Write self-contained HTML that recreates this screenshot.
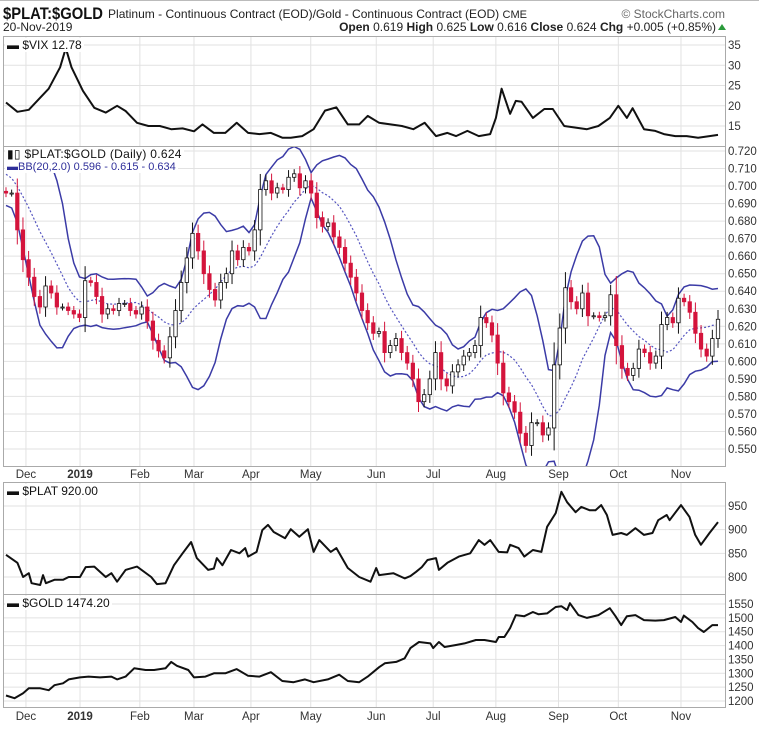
<!DOCTYPE html>
<html><head><meta charset="utf-8"><style>
body{margin:0;background:#fff}
svg{display:block;font-family:"Liberation Sans",sans-serif}
</style></head><body>
<svg id="chart" width="759" height="729" viewBox="0 0 759 729" xmlns="http://www.w3.org/2000/svg">
<rect width="759" height="729" fill="#fff"/>
<line x1="0" y1="0.5" x2="759" y2="0.5" stroke="#bbb"/>
<g>
<text x="3" y="19" font-size="17" font-weight="bold" fill="#111" textLength="100" lengthAdjust="spacingAndGlyphs">$PLAT:$GOLD</text>
<text x="108" y="18" font-size="12" fill="#222" textLength="419" lengthAdjust="spacingAndGlyphs">Platinum - Continuous Contract (EOD)/Gold - Continuous Contract (EOD) <tspan font-size="11">CME</tspan></text>
<text x="725" y="18" font-size="12" fill="#666" text-anchor="end">© StockCharts.com</text>
<text x="3" y="31" font-size="12" fill="#222">20-Nov-2019</text>
<text x="716" y="31" font-size="12" fill="#222" text-anchor="end"><tspan font-weight="bold">Open</tspan> 0.619  <tspan font-weight="bold">High</tspan> 0.625  <tspan font-weight="bold">Low</tspan> 0.616  <tspan font-weight="bold">Close</tspan> 0.624  <tspan font-weight="bold">Chg</tspan> +0.005 (+0.85%)</text>
<path d="M718,30 l4,-6 l4,6z" fill="#2a9a3a"/>
</g>
<g id="grid"></g>
<g id="marks"></g>
<g id="frames"></g>
<g id="labels"></g>
</svg>
<script>
// ---- data ----
const monthNames = ["Dec","2019","Feb","Mar","Apr","May","Jun","Jul","Aug","Sep","Oct","Nov"];
const monthDays = [7,26,47,66,86,107,130,150,172,194,215,237];

const ratioWarmup = [0.712,0.718,0.722,0.716,0.710,0.706,0.700,0.703,0.699,0.697];
const ratioClose = [0.696,0.696,0.675,0.658,0.648,0.637,0.631,0.643,0.639,0.631,0.631,0.629,0.627,0.625,0.646,0.645,0.637,0.627,0.630,0.629,0.633,0.633,0.629,0.627,0.631,0.623,0.612,0.606,0.602,0.614,0.629,0.645,0.659,0.673,0.663,0.650,0.641,0.635,0.645,0.650,0.663,0.658,0.665,0.663,0.675,0.698,0.703,0.696,0.699,0.698,0.705,0.707,0.699,0.703,0.696,0.682,0.677,0.679,0.671,0.665,0.656,0.648,0.639,0.629,0.622,0.616,0.617,
0.605,0.609,0.613,0.605,0.599,0.590,0.577,0.581,0.590,0.605,0.590,0.586,0.594,0.598,0.603,0.605,0.609,0.625,0.622,0.615,0.599,0.582,0.577,0.571,0.559,0.552,0.565,0.565,0.558,0.562,0.598,0.619,0.642,0.634,0.630,0.639,0.626,0.626,0.625,0.626,0.638,0.609,0.596,0.592,0.596,0.607,0.605,0.599,0.603,0.621,0.625,0.622,0.636,0.634,0.628,0.616,0.607,0.603,0.613,0.624];
const ratioTicks = [0.550,0.560,0.570,0.580,0.590,0.600,0.610,0.620,0.630,0.640,0.650,0.660,0.670,0.680,0.690,0.700,0.710,0.720];

const vixDays = [0,4,8,12,15,19,21,23,27,31,35,39,42,46,50,54,58,62,66,69,73,77,81,85,89,93,97,100,104,108,112,116,120,124,127,131,135,139,143,147,151,155,158,162,166,170,172,174,177,179,181,185,189,192,196,200,204,208,212,215,218,220,224,228,231,235,239,243,247,250];
const vixValues = [20.8,18.5,19,22,24.2,29.5,34.2,29.5,23.7,19.5,18.3,20,18.7,15.8,15,15,14.2,14.4,13.7,15.4,13.3,13.3,15.8,13.3,13,13.3,12.1,12.1,12.5,14.2,18.8,19.6,15.4,15.4,17.5,15.8,15.4,15,14.2,15.8,12.5,13.3,12.5,13.8,12.5,13,17,24.2,18,21.2,21,17,19.2,19.2,15,14.6,14.2,15,17,20,17,19.4,14.2,13.8,13,12.5,12.5,12.1,12.5,12.8];
const vixTicks = [15,20,25,30,35];

const platDays = [0,4,6,8,9,12,13,14,17,20,22,26,28,31,35,37,39,42,46,51,53,56,59,62,65,67,71,73,74,76,79,82,84,85,88,90,92,94,98,100,103,106,108,110,114,116,120,124,128,130,131,136,140,142,144,146,148,151,152,155,159,163,166,168,170,173,176,177,180,182,185,188,190,193,195,197,200,202,205,207,209,211,213,216,218,221,224,227,229,232,233,237,240,242,244,247,250];
const platValues = [847,830,800,808,787,783,804,787,794,794,800,800,821,822,800,808,790,815,822,800,785,787,825,850,874,840,815,818,840,825,857,850,861,843,853,899,910,895,882,901,885,901,853,878,853,861,819,800,790,819,804,808,797,802,811,821,836,840,815,830,843,850,878,868,878,853,852,868,861,843,857,853,906,935,980,958,937,948,941,941,952,931,889,893,889,903,889,893,920,931,920,952,927,889,868,893,916];
const platTicks = [800,850,900,950];

const goldDays = [0,3,6,8,12,15,17,20,22,26,29,33,37,39,42,45,49,52,56,58,60,64,66,70,73,77,81,85,89,93,97,101,105,108,113,117,120,124,127,131,133,137,140,142,145,149,150,152,154,158,161,165,168,172,173,175,177,179,182,185,187,190,193,195,197,198,201,204,208,212,214,216,218,221,224,228,231,235,237,238,241,243,245,248,250];
const goldValues = [1220,1210,1228,1246,1246,1239,1257,1264,1278,1285,1288,1285,1288,1278,1288,1318,1312,1312,1318,1341,1327,1312,1285,1288,1300,1300,1315,1291,1288,1304,1272,1268,1278,1268,1278,1295,1272,1268,1288,1322,1336,1341,1354,1391,1413,1408,1391,1413,1395,1402,1408,1420,1420,1413,1431,1431,1463,1510,1506,1521,1513,1516,1539,1542,1528,1553,1510,1500,1510,1535,1506,1474,1506,1510,1492,1490,1492,1503,1485,1508,1485,1463,1449,1474,1474];
const goldTicks = [1200,1250,1300,1350,1400,1450,1500,1550];

// ---- layout ----
const L=3, R=725, X0=6, X1=718, LASTDAY=250;
const xOfDay = d => X0 + d*(X1-X0)/LASTDAY;
const xOfIdx = i => X0 + i*(X1-X0)/(ratioClose.length-1);
const lin = (v0,y0,v1,y1) => v => y0 + (v-v0)*(y1-y0)/(v1-v0);
const yVix = lin(15,126,35,45);
const yRat = lin(0.550,449,0.720,151);
const yPlat = lin(800,577,950,506);
const yGold = lin(1200,701,1550,604);
const panels = [{t:36,b:146,name:'vix-panel'},{t:146,b:466,name:'ratio-panel'},{t:482,b:594,name:'plat-panel'},{t:594,b:707,name:'gold-panel'}];

const NS='http://www.w3.org/2000/svg';
function mk(tag, attrs, parent){const e=document.createElementNS(NS,tag);for(const k in attrs)e.setAttribute(k,attrs[k]);parent.appendChild(e);return e;}
const grid=document.getElementById('grid'), marks=document.getElementById('marks'), frames=document.getElementById('frames'), labels=document.getElementById('labels');

const defs=mk('defs',{},document.getElementById('chart'));
panels.forEach((p,k)=>{const c=mk('clipPath',{id:'clip'+k},defs);mk('rect',{x:L,y:p.t,width:R-L,height:p.b-p.t},c);});

panels.forEach(p=>{monthDays.forEach(d=>{
  const g=mk('line',{x1:xOfDay(d),x2:xOfDay(d),y1:p.t,y2:p.b,stroke:'#e2e2e2'},grid);
  
  
});});
function hGrid(ticks, yf, fmt, nm){
  ticks.forEach(v=>{
    const y=yf(v);
    const g=mk('line',{x1:L,x2:R,y1:y,y2:y,stroke:'#e2e2e2'},grid);
    
    
    const t=mk('text',{x:R+3,y:y+4,'font-size':11.5,fill:'#333'},labels);
    t.textContent=fmt(v);
    
    
  });
}
hGrid(vixTicks,yVix,v=>v,'vix');
hGrid(ratioTicks,yRat,v=>v.toFixed(3),'ratio');
hGrid(platTicks,yPlat,v=>v,'plat');
hGrid(goldTicks,yGold,v=>v,'gold');

function linePath(days, vals, yf){return days.map((d,i)=>(i?'L':'M')+xOfDay(d).toFixed(1)+','+yf(vals[i]).toFixed(1)).join('');}
const vixLine=mk('path',{d:linePath(vixDays,vixValues,yVix),fill:'none',stroke:'#111','stroke-width':2,'clip-path':'url(#clip0)','stroke-linejoin':'round'},marks);


const platLine=mk('path',{d:linePath(platDays,platValues,yPlat),fill:'none',stroke:'#111','stroke-width':2,'clip-path':'url(#clip2)','stroke-linejoin':'round'},marks);


const goldLine=mk('path',{d:linePath(goldDays,goldValues,yGold),fill:'none',stroke:'#111','stroke-width':2,'clip-path':'url(#clip3)','stroke-linejoin':'round'},marks);



const all=ratioWarmup.concat(ratioClose), W=10;
let up='',mid='',lo='';
ratioClose.forEach((c,i)=>{
  const win=all.slice(i+ratioWarmup.length-W+1,i+ratioWarmup.length+1);
  const m=win.reduce((a,b)=>a+b,0)/W;
  const sd=Math.sqrt(win.reduce((a,b)=>a+(b-m)*(b-m),0)/W);
  const x=xOfIdx(i).toFixed(1), p=i?'L':'M';
  up+=p+x+','+yRat(m+2*sd).toFixed(1);
  mid+=p+x+','+yRat(m).toFixed(1);
  lo+=p+x+','+yRat(m-2*sd).toFixed(1);
});
const bbU=mk('path',{d:up,fill:'none',stroke:'#3b3ba6','stroke-width':1.5,'clip-path':'url(#clip1)'},marks);


const bbL=mk('path',{d:lo,fill:'none',stroke:'#3b3ba6','stroke-width':1.5,'clip-path':'url(#clip1)'},marks);


const bbM=mk('path',{d:mid,fill:'none',stroke:'#5555c0','stroke-width':1.2,'stroke-dasharray':'2,2','clip-path':'url(#clip1)'},marks);



const cg=mk('g',{'clip-path':'url(#clip1)'},marks);
ratioClose.forEach((c,i)=>{
  const o=i?ratioClose[i-1]:ratioWarmup[ratioWarmup.length-1];
  const w=Math.abs(c-o)*0.3+0.002;
  const hi=Math.max(o,c)+w, lw=Math.min(o,c)-w;
  const x=xOfIdx(i), dn=c<o, col=dn?'#d4143c':'#111';
  const g=mk('g',{},cg);
  
  
  mk('line',{x1:x,x2:x,y1:yRat(hi),y2:yRat(lw),stroke:col,'stroke-width':1},g);
  const yt=yRat(Math.max(o,c)), h=Math.max(1,yRat(Math.min(o,c))-yt);
  mk('rect',{x:x-1.7,y:yt,width:3.4,height:h,fill:dn?col:'#fff',stroke:col,'stroke-width':0.8},g);
});

panels.forEach(p=>{
  const r=mk('rect',{x:L+0.5,y:p.t+0.5,width:R-L,height:p.b-p.t,fill:'none',stroke:'#aaa'},frames);
  
  
});
[478,720].forEach(yy=>{monthNames.forEach((m,k)=>{
  const t=mk('text',{x:xOfDay(monthDays[k]),y:yy,'font-size':11.5,'text-anchor':'middle',fill:'#333','font-weight':m==='2019'?'bold':'normal'},labels);
  t.textContent=m;
  
  
});});
</script>
<div style="position:absolute;left:0;top:0;width:759px;height:729px;pointer-events:none">
<div style="position:absolute;left:5px;top:38px;background:#fff;font:12px 'Liberation Sans',sans-serif;color:#111;padding:0 2px">▬ $VIX 12.78</div>
<div style="position:absolute;left:5px;top:147px;background:#fff;font:12px 'Liberation Sans',sans-serif;color:#111;padding:0 2px;letter-spacing:0.3px">▮▯ $PLAT:$GOLD (Daily) 0.624</div>
<div style="position:absolute;left:5px;top:161px;background:#fff;font:11px 'Liberation Sans',sans-serif;color:#2f2f9a;padding:0 2px">▬BB(20,2.0) 0.596 - 0.615 - 0.634</div>
<div style="position:absolute;left:5px;top:484px;background:#fff;font:12px 'Liberation Sans',sans-serif;color:#111;padding:0 2px">▬ $PLAT 920.00</div>
<div style="position:absolute;left:5px;top:596px;background:#fff;font:12px 'Liberation Sans',sans-serif;color:#111;padding:0 2px">▬ $GOLD 1474.20</div>
</div>
</body></html>
